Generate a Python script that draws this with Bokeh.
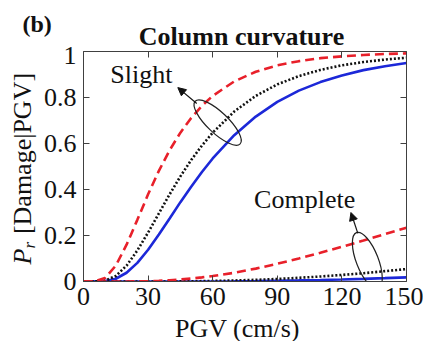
from bokeh.plotting import figure
from bokeh.models import (Range1d, LinearAxis, FixedTicker, Label, Arrow, NormalHead)
from bokeh.layouts import column, row
from bokeh.embed import file_html
from bokeh.resources import INLINE
import math

# ---- data ----
pgv = [0, 5, 10, 15, 20, 25, 30, 35, 40, 45, 50, 55, 60, 70, 80, 90, 100, 110, 120, 130, 140, 150]

slight_red = [0, 0, 0.015, 0.069, 0.16, 0.268, 0.379, 0.481, 0.571, 0.647, 0.711, 0.764, 0.807,
              0.870, 0.912, 0.940, 0.958, 0.971, 0.979, 0.985, 0.989, 0.992]
slight_black = [0, 0, 0.004, 0.024, 0.069, 0.135, 0.213, 0.296, 0.379, 0.457, 0.528, 0.591, 0.647,
                0.739, 0.807, 0.857, 0.893, 0.920, 0.940, 0.954, 0.965, 0.973]
slight_blue = [0, 0, 0.002, 0.012, 0.038, 0.081, 0.138, 0.204, 0.274, 0.345, 0.412, 0.476, 0.535,
               0.636, 0.717, 0.781, 0.830, 0.867, 0.896, 0.919, 0.936, 0.950]

complete_red = [0, 0, 0, 0, 0, 0.0005, 0.0017, 0.003, 0.0056, 0.009, 0.0128, 0.018, 0.0237,
                0.038, 0.056, 0.077, 0.100, 0.125, 0.151, 0.178, 0.206, 0.234]
complete_black = [0, 0, 0, 0, 0, 0, 0, 0, 0, 0.0005, 0.001, 0.0015, 0.0023,
                  0.0044, 0.0073, 0.011, 0.016, 0.0217, 0.0285, 0.036, 0.045, 0.054]
complete_blue = [0, 0, 0, 0, 0, 0, 0, 0, 0, 0, 0, 0, 0.0003,
                 0.0008, 0.0018, 0.0032, 0.0047, 0.0066, 0.0089, 0.0116, 0.0146, 0.018]

x_ticks = [0, 30, 60, 90, 120, 150]
y_ticks = [0, 0.2, 0.4, 0.6, 0.8, 1]
y_tick_labels = {0: "0", 0.2: "0.2", 0.4: "0.4", 0.6: "0.6", 0.8: "0.8", 1: "1"}

title_text = "Column curvature"
panel_text = "(b)"
x_label = "PGV (cm/s)"
y_label_main = "P"
y_label_sub = "r"
y_label_rest = "[Damage|PGV]"
state_labels = ["Slight", "Complete"]

# ---- styles / layout ----
SERIF = "Liberation Serif"
RED = "#e8202a"
BLUE = "#1c28d8"
BLACK = "#111111"
TXT = "#111111"
AXC = "#404040"
FS = "26px"
W, H = 423, 341
TOP_H, LEFT_W, BOT_H = 46, 40, 24
MID_H = H - TOP_H - BOT_H
FRAME_TOP, FRAME_BOT = 51, 281          # canvas rows of the plot frame
B_TOP = FRAME_TOP - TOP_H
B_BOT = MID_H - B_TOP - (FRAME_BOT - FRAME_TOP)


def blank(width, height, yr=None, bt=0, bb=0):
    f = figure(width=width, height=height, output_backend="svg", toolbar_location=None,
               x_range=Range1d(0, width), y_range=yr if yr is not None else Range1d(0, height),
               x_axis_type=None, y_axis_type=None, min_border=0,
               min_border_left=0, min_border_right=0, min_border_top=bt, min_border_bottom=bb,
               background_fill_color="white", border_fill_color="white")
    f.outline_line_color = None
    f.grid.visible = False
    return f


def lab(x, y, text, size=FS, style="normal", align="center", angle=0):
    return Label(x=x, y=y, text=text, angle=angle, text_align=align, text_baseline="middle",
                 text_font=SERIF, text_font_size=size, text_font_style=style, text_color=TXT)


# top strip: panel letter and title (canvas y -> data y = TOP_H - y)
top = blank(W, TOP_H)
top.add_layout(lab(22, TOP_H - 23, panel_text, size="24px", style="bold", align="left"))
top.add_layout(lab(241, TOP_H - 35.5, title_text, size="26px", style="bold"))

# left strip: same vertical borders as the main plot, so its frame spans the plot frame;
# its y range is chosen so that data y = H - canvas y
left = blank(LEFT_W, MID_H, yr=Range1d(H - FRAME_BOT, H - FRAME_TOP), bt=B_TOP, bb=B_BOT)
a = math.pi / 2
left.add_layout(lab(22.4, H - 256, y_label_main, style="italic", angle=a))
left.add_layout(lab(29.4, H - 244.7, y_label_sub, size="17px", style="italic", angle=a))
left.add_layout(lab(22.4, H - 153, y_label_rest, angle=a))

# main plot
p = figure(width=W - LEFT_W, height=MID_H, output_backend="svg", toolbar_location=None,
           x_range=Range1d(0, 150), y_range=Range1d(0, 1),
           min_border_left=81 - LEFT_W, min_border_right=17, min_border_top=B_TOP,
           min_border_bottom=B_BOT,
           background_fill_color="white", border_fill_color="white")
p.outline_line_color = None
p.grid.visible = False
p.xaxis.visible = False
p.yaxis.visible = False


def style_axis(ax, show_labels):
    ax.axis_line_color = AXC
    ax.axis_line_width = 1
    ax.major_tick_line_color = AXC
    ax.major_tick_in = 6
    ax.major_tick_out = 0
    ax.minor_tick_line_color = None
    ax.major_label_text_font = SERIF
    ax.major_label_text_color = TXT
    if show_labels:
        ax.major_label_text_font_size = FS
    else:
        ax.major_label_text_font_size = "0px"
        ax.major_label_standoff = 0


xb = LinearAxis(ticker=FixedTicker(ticks=x_ticks))
style_axis(xb, True)
xb.major_label_standoff = 6
p.add_layout(xb, "below")

yl = LinearAxis(ticker=FixedTicker(ticks=y_ticks), major_label_overrides=y_tick_labels)
style_axis(yl, True)
yl.major_label_standoff = 7
p.add_layout(yl, "left")

xt = LinearAxis(ticker=FixedTicker(ticks=x_ticks))
style_axis(xt, False)
p.add_layout(xt, "above")
yr = LinearAxis(ticker=FixedTicker(ticks=y_ticks))
style_axis(yr, False)
p.add_layout(yr, "right")

LW = 2.6
p.line(pgv, slight_blue, line_color=BLUE, line_width=LW)
p.line(pgv, complete_blue, line_color=BLUE, line_width=LW)
p.line(pgv, slight_black, line_color=BLACK, line_width=LW, line_dash="2 2")
p.line(pgv, complete_black, line_color=BLACK, line_width=LW, line_dash="2 2")
p.line(pgv, slight_red, line_color=RED, line_width=LW, line_dash="9 5")
p.line(pgv, complete_red, line_color=RED, line_width=LW, line_dash="9 5")

# ellipses marking the groups
p.ellipse(x=[62.3], y=[0.691], width=[62], height=[21], width_units="screen",
          height_units="screen", angle=[-0.76], fill_color=None, line_color="#222222", line_width=1.2)
p.ellipse(x=[131.8], y=[0.091], width=[60], height=[22], width_units="screen",
          height_units="screen", angle=[-1.2], fill_color=None, line_color="#222222", line_width=1.2)

p.add_layout(Arrow(end=NormalHead(size=8, fill_color="#111111", line_color="#111111"),
                   x_start=52.6, y_start=0.774, x_end=43.8, y_end=0.843,
                   line_color="#111111", line_width=1.2))
p.add_layout(Arrow(end=NormalHead(size=8, fill_color="#111111", line_color="#111111"),
                   x_start=127.4, y_start=0.209, x_end=124.2, y_end=0.30,
                   line_color="#111111", line_width=1.2))

p.add_layout(lab(26.9, 0.898, state_labels[0]))
p.add_layout(lab(102.7, 0.355, state_labels[1]))

# bottom strip: x-axis label (canvas y -> data y = H - y)
bot = blank(W, BOT_H)
bot.add_layout(lab(237, H - 328.4, x_label))

layout = column(top, row(left, p, spacing=0), bot, spacing=0)
open("out.html", "w").write(file_html(layout, INLINE))
